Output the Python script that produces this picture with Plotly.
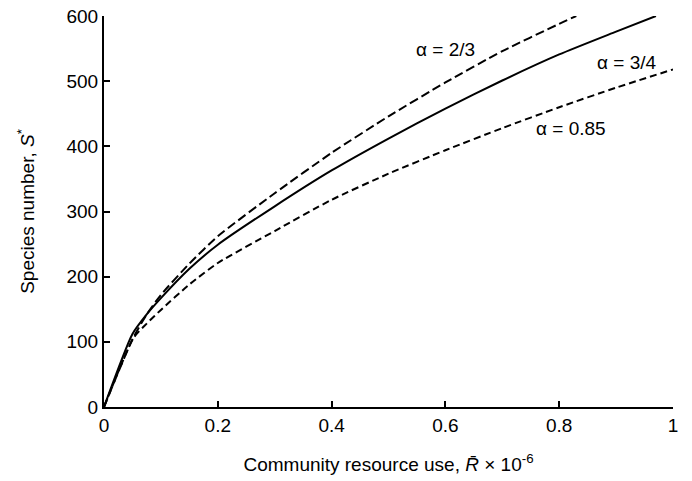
import plotly.graph_objects as go

# Community resource use (x 10^-6)
x_23 = [0, 0.05, 0.075, 0.1, 0.15, 0.2, 0.3, 0.4, 0.5, 0.6, 0.7, 0.8, 0.83]
s_23 = [0, 104, 142, 172, 220, 262, 328, 390, 446, 498, 546, 588, 600]

x_34 = [0, 0.05, 0.075, 0.1, 0.15, 0.2, 0.3, 0.4, 0.5, 0.6, 0.7, 0.8, 0.9, 0.97]
s_34 = [0, 112, 142, 167, 212, 249, 308, 363, 412, 458, 501, 541, 576, 600]

x_85 = [0, 0.052, 0.075, 0.1, 0.15, 0.2, 0.3, 0.4, 0.5, 0.6, 0.7, 0.8, 0.9, 1.0]
s_85 = [0, 106, 128, 149, 188, 221, 270, 318, 358, 394, 428, 460, 490, 518]

labels = ["α = 2/3", "α = 3/4", "α = 0.85"]
label_pos = [(0.6, 548), (0.919, 529), (0.821, 428)]

font = "Liberation Sans, Arial, sans-serif"

fig = go.Figure()
fig.add_trace(go.Scatter(x=x_23, y=s_23, mode="lines",
                         line=dict(color="black", width=2, dash="9px,4px",
                                   shape="spline", smoothing=0.6)))
fig.add_trace(go.Scatter(x=x_34, y=s_34, mode="lines",
                         line=dict(color="black", width=2,
                                   shape="spline", smoothing=0.6)))
fig.add_trace(go.Scatter(x=x_85, y=s_85, mode="lines",
                         line=dict(color="black", width=2, dash="7px,4px",
                                   shape="spline", smoothing=0.6)))

for t, (lx, ly) in zip(labels, label_pos):
    fig.add_annotation(x=lx, y=ly, text=t, showarrow=False,
                       font=dict(size=19, color="black", family=font))

fig.update_layout(
    width=684, height=473,
    margin=dict(l=96, r=19, t=8, b=74),
    paper_bgcolor="white", plot_bgcolor="white",
    showlegend=False,
    font=dict(family=font, size=19, color="black"),
)
fig.update_xaxes(range=[0, 1], tickvals=[0, 0.2, 0.4, 0.6, 0.8, 1],
                 ticktext=["0", "0.2", "0.4", "0.6", "0.8", "1"],
                 automargin=False, ticklabeloverflow="allow",
                 showgrid=False, zeroline=False, showline=True, linecolor="black",
                 linewidth=2, ticks="inside", ticklen=6, tickwidth=1.5, tickcolor="black",
                 title=dict(text="Community resource use, <i>R̄</i> × 10<sup>-6</sup>",
                            font=dict(size=19), standoff=23))
fig.update_yaxes(range=[0, 600], tickvals=[0, 100, 200, 300, 400, 500, 600],
                 automargin=False, ticklabeloverflow="allow",
                 showgrid=False, zeroline=False, showline=True, linecolor="black",
                 linewidth=2, ticks="inside", ticklen=6, tickwidth=1.5, tickcolor="black",
                 title=dict(text="Species number, <i>S</i><sup>*</sup>",
                            font=dict(size=19), standoff=27))

fig.write_html("out.html")
